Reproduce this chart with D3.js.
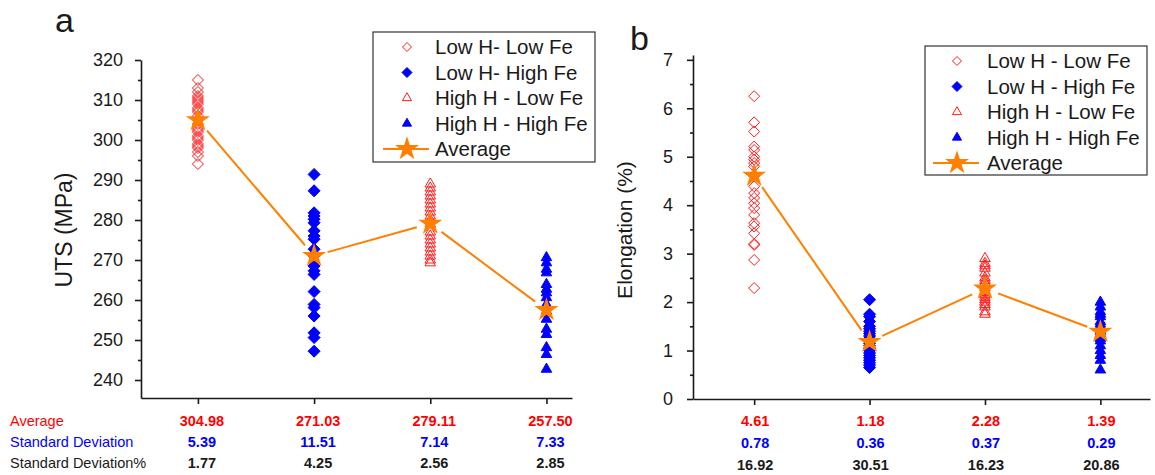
<!DOCTYPE html>
<html>
<head>
<meta charset="utf-8">
<script src="https://cdn.jsdelivr.net/npm/d3@7"></script>
<style>
  body { margin: 0; background: #fff; }
  text { font-family: "Liberation Sans", Arial, sans-serif; }
</style>
</head>
<body>
<div id="chart-area"></div>
<script>
// ---- data ----
var groups = ['Low H - Low Fe', 'Low H - High Fe', 'High H - Low Fe', 'High H - High Fe'];
var legendA = ['Low H- Low Fe', 'Low H- High Fe', 'High H - Low Fe', 'High H - High Fe', 'Average'];
var legendB = ['Low H - Low Fe', 'Low H - High Fe', 'High H - Low Fe', 'High H - High Fe', 'Average'];

var utsLowHLowFe = [315, 313, 312, 311, 310.5, 310, 309.5, 309, 308, 307.5, 307, 306, 305, 304, 303,
  302.5, 302, 301, 300.5, 300, 299, 298.5, 298, 297, 296, 294];
var utsLowHHighFe = [291.4, 287.3, 281.8, 281, 280.2, 279.3, 277.3, 276, 275.2, 272.7, 271, 268.5,
  267.3, 266.4, 262.1, 258.9, 258.1, 256, 251.8, 250.6, 247.2];
var utsHighHLowFe = [289, 288, 287, 286, 285, 284, 283, 282, 281, 280, 279, 277, 276, 275, 274,
  273, 272, 271, 270, 269.3];
var utsHighHHighFe = [270.6, 269.3, 267.7, 266.8, 263.9, 262.7, 261.8, 260.6, 258.9, 257.2, 255.2,
  252.7, 251.4, 248.1, 246.4, 242.7];

var elLowHLowFe = [6.25, 5.71, 5.52, 5.21, 5.14, 5.0, 4.94, 4.87, 4.8, 4.6, 4.39, 4.25, 4.15, 4.04,
  3.94, 3.8, 3.63, 3.56, 3.42, 3.2, 3.18, 2.87, 2.29];
var elLowHHighFe = [2.05, 1.75, 1.7, 1.6, 1.5, 1.45, 1.4, 1.35, 1.3, 1.25, 1.2, 1.15, 1.1, 1.05,
  1.0, 0.95, 0.9, 0.85, 0.8, 0.75, 0.7, 0.65];
var elHighHLowFe = [2.9, 2.8, 2.75, 2.7, 2.6, 2.5, 2.45, 2.4, 2.3, 2.2, 2.15, 2.1, 2.05, 2.0, 1.95,
  1.9, 1.8, 1.75];
var elHighHHighFe = [2.0, 1.9, 1.8, 1.75, 1.7, 1.6, 1.55, 1.5, 1.45, 1.4, 1.35, 1.3, 1.25, 1.2,
  1.1, 1.0, 0.9, 0.8, 0.6];

var utsAverage = [304.98, 271.03, 279.11, 257.50];
var utsStd = [5.39, 11.51, 7.14, 7.33];
var utsStdPct = [1.77, 4.25, 2.56, 2.85];
var elAverage = [4.61, 1.18, 2.28, 1.39];
var elStd = [0.78, 0.36, 0.37, 0.29];
var elStdPct = [16.92, 30.51, 16.23, 20.86];

var utsTicks = [240, 250, 260, 270, 280, 290, 300, 310, 320];
var elTicks = [0, 1, 2, 3, 4, 5, 6, 7];

// ---- styles ----
var RED = '#ff1a1a';
var BLUE = '#0000ff';
var ORANGE = '#ff8000';
var INK = '#1a1a1a';

var svg = d3.select('#chart-area')
  .append('svg')
  .attr('width', 1155)
  .attr('height', 475);

function diamondPath(r) {
  return 'M0,' + (-r) + 'L' + r + ',0L0,' + r + 'L' + (-r) + ',0Z';
}
var triPath = d3.symbol().type(d3.symbolTriangle).size(48)();
var triSmall = d3.symbol().type(d3.symbolTriangle).size(36)();
var starPath = d3.symbol().type(d3.symbolStar).size(180)();

// marker style per group
var markers = [
  { path: diamondPath(5.5), legend: diamondPath(4.5), fill: 'none', stroke: RED },
  { path: diamondPath(6), legend: diamondPath(5), fill: BLUE, stroke: BLUE },
  { path: triPath, legend: triSmall, fill: 'none', stroke: RED },
  { path: triPath, legend: triSmall, fill: BLUE, stroke: BLUE }
];

function drawPanel(cfg) {
  var x = d3.scaleLinear().domain(cfg.xDomain).range(cfg.xRange);
  var y = d3.scaleLinear().domain(cfg.yDomain).range(cfg.yRange);
  var g = svg.append('g');

  // Y axis: minor ticks halfway between majors
  var yMinor = [];
  for (var i = 0; i < cfg.yTicks.length - 1; i++) {
    yMinor.push((cfg.yTicks[i] + cfg.yTicks[i + 1]) / 2);
  }
  g.append('g')
    .attr('transform', 'translate(' + cfg.xRange[0] + ',0)')
    .call(d3.axisLeft(y).tickValues(yMinor).tickSize(3).tickSizeOuter(0).tickFormat(''))
    .call(function(a) { a.select('.domain').remove(); });
  var yAxis = g.append('g')
    .attr('transform', 'translate(' + cfg.xRange[0] + ',0)')
    .call(d3.axisLeft(y).tickValues(cfg.yTicks).tickSize(6).tickSizeOuter(0)
      .tickPadding(cfg.tickPad).tickFormat(d3.format('d')));
  yAxis.selectAll('text').attr('font-size', '18px').attr('fill', INK)
    .attr('font-family', '"Liberation Sans", Arial, sans-serif');

  // X axis: ticks at categories only
  g.append('g')
    .attr('transform', 'translate(0,' + cfg.yRange[0] + ')')
    .call(d3.axisBottom(x).tickValues([1, 2, 3, 4]).tickSize(6).tickSizeOuter(0).tickFormat(''));

  g.selectAll('.domain, .tick line').attr('stroke', INK).attr('stroke-width', 1.6);

  // scatter points
  cfg.series.forEach(function(vals, k) {
    g.selectAll(null)
      .data(vals)
      .enter()
      .append('path')
      .attr('d', markers[k].path)
      .attr('transform', function(d) { return 'translate(' + x(k + 1) + ',' + y(d) + ')'; })
      .attr('fill', markers[k].fill)
      .attr('stroke', markers[k].stroke)
      .attr('stroke-width', 1);
  });

  // average line, with small gaps at the stars
  var pts = cfg.avg.map(function(d, k) { return [x(k + 1), y(d)]; });
  for (var j = 0; j < pts.length - 1; j++) {
    var p = pts[j], q = pts[j + 1];
    var dx = q[0] - p[0], dy = q[1] - p[1];
    var len = Math.sqrt(dx * dx + dy * dy);
    var gap = 14;
    g.append('line')
      .attr('x1', p[0] + dx / len * gap).attr('y1', p[1] + dy / len * gap)
      .attr('x2', q[0] - dx / len * gap).attr('y2', q[1] - dy / len * gap)
      .attr('stroke', ORANGE)
      .attr('stroke-width', 2);
  }
  g.selectAll('.star')
    .data(cfg.avg)
    .enter()
    .append('path')
    .attr('class', 'star')
    .attr('d', starPath)
    .attr('transform', function(d, k) { return 'translate(' + x(k + 1) + ',' + y(d) + ')'; })
    .attr('fill', ORANGE);

  // axis title
  g.append('text')
    .attr('transform', 'translate(' + cfg.titleX + ',' + cfg.titleY + ') rotate(-90)')
    .attr('text-anchor', 'middle')
    .attr('font-size', cfg.titleSize)
    .attr('fill', INK)
    .text(cfg.title);

  // panel letter
  g.append('text')
    .attr('x', cfg.letterX)
    .attr('y', cfg.letterY)
    .attr('font-size', '34px')
    .attr('fill', INK)
    .text(cfg.letter);

  // legend
  var lg = g.append('g').attr('transform', 'translate(' + cfg.legend.x + ',' + cfg.legend.y + ')');
  lg.append('rect')
    .attr('width', cfg.legend.w)
    .attr('height', cfg.legend.h)
    .attr('fill', '#fff')
    .attr('stroke', '#333')
    .attr('stroke-width', 1.2);
  cfg.legend.labels.forEach(function(label, k) {
    var cy = 15 + k * 25.5;
    var sx = cfg.legend.sym;
    if (k < 4) {
      lg.append('path')
        .attr('d', markers[k].legend)
        .attr('transform', 'translate(' + sx + ',' + cy + ')')
        .attr('fill', markers[k].fill)
        .attr('stroke', markers[k].stroke)
        .attr('stroke-width', 1);
    } else {
      lg.append('line')
        .attr('x1', sx - 24).attr('x2', sx + 22)
        .attr('y1', cy).attr('y2', cy)
        .attr('stroke', ORANGE).attr('stroke-width', 2);
      lg.append('path')
        .attr('d', starPath)
        .attr('transform', 'translate(' + sx + ',' + cy + ')')
        .attr('fill', ORANGE);
    }
    lg.append('text')
      .attr('x', cfg.legend.tx)
      .attr('y', cy + 7)
      .attr('font-size', '20.5px')
      .attr('fill', INK)
      .text(label);
  });

  // stats table under the axis
  var rows = [
    { vals: cfg.avg, color: '#ff0000', name: 'Average' },
    { vals: cfg.std, color: BLUE, name: 'Standard Deviation' },
    { vals: cfg.pct, color: INK, name: 'Standard Deviation%' }
  ];
  rows.forEach(function(r, i) {
    var ty = cfg.tableY + i * cfg.rowGap;
    if (cfg.rowNames) {
      g.append('text')
        .attr('x', 10).attr('y', ty)
        .attr('font-size', '14.5px')
        .attr('fill', r.color)
        .text(r.name);
    }
    g.selectAll(null)
      .data(r.vals)
      .enter()
      .append('text')
      .attr('x', function(d, k) { return x(k + 1) + cfg.valOffset; })
      .attr('y', ty)
      .attr('text-anchor', 'middle')
      .attr('font-size', '14.5px')
      .attr('font-weight', 'bold')
      .attr('fill', r.color)
      .text(function(d) { return d.toFixed(2); });
  });
}

// a: UTS
drawPanel({
  xDomain: [0.51, 4.22], xRange: [141, 572],
  yDomain: [235.5, 320], yRange: [398, 60],
  yTicks: utsTicks, tickPad: 12,
  series: [utsLowHLowFe, utsLowHHighFe, utsHighHLowFe, utsHighHHighFe],
  avg: utsAverage, std: utsStd, pct: utsStdPct,
  title: 'UTS (MPa)', titleX: 72, titleY: 230, titleSize: '23px',
  letter: 'a', letterX: 55, letterY: 32,
  legend: { x: 373, y: 32, w: 222, h: 130, sym: 34, tx: 62, labels: legendA },
  tableY: 426, rowGap: 21, rowNames: true, valOffset: 4
});

// b: Elongation
drawPanel({
  xDomain: [0.47, 4.43], xRange: [693, 1150],
  yDomain: [0, 7.1], yRange: [399, 55],
  yTicks: elTicks, tickPad: 14,
  series: [elLowHLowFe, elLowHHighFe, elHighHLowFe, elHighHHighFe],
  avg: elAverage, std: elStd, pct: elStdPct,
  title: 'Elongation (%)', titleX: 632, titleY: 230, titleSize: '21px',
  letter: 'b', letterX: 630, letterY: 50,
  legend: { x: 925, y: 46, w: 222, h: 129, sym: 32, tx: 62, labels: legendB },
  tableY: 426, rowGap: 22, rowNames: false, valOffset: 1
});
</script>
</body>
</html>
